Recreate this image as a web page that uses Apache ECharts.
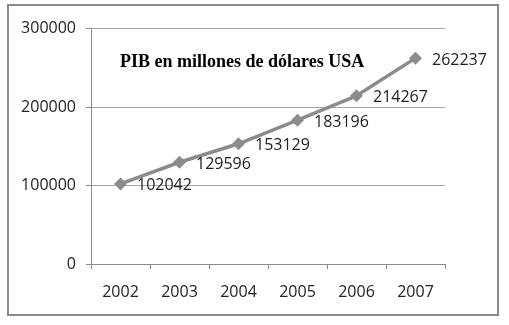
<!DOCTYPE html>
<html>
<head>
<meta charset="utf-8">
<script src="https://cdn.jsdelivr.net/npm/echarts@6/dist/echarts.min.js"></script>
<style>html,body{margin:0;padding:0;background:#fff}#c{width:509px;height:325px}</style>
</head>
<body>
<div id="c"></div>
<script>
var categories = ['2002','2003','2004','2005','2006','2007'];
var pib = [102042, 129596, 153129, 183196, 214267, 262237];
var yTicks = [0, 100000, 200000, 300000];
var titleText = 'PIB en millones de dólares USA';

var chart = echarts.init(document.getElementById('c'), null, {renderer:'canvas'});
var font = 'Open Sans';
chart.setOption({
  animation: false,
  backgroundColor: '#fff',
  graphic: [{
    type: 'rect',
    shape: {x: 8, y: 5, width: 490, height: 310},
    style: {fill: 'none', stroke: '#8a8a8a', lineWidth: 2}
  }],
  title: {
    text: titleText,
    left: 115, top: 48,
    textStyle: {fontFamily: 'Liberation Serif', fontSize: 18, fontWeight: 'bold', color: '#000'}
  },
  grid: {left: 91, right: 64, top: 28.5, bottom: 61, containLabel: false},
  xAxis: {
    type: 'category',
    data: categories,
    boundaryGap: true,
    axisLine: {lineStyle: {color: '#8a8a8a', width: 1}},
    axisTick: {show: true, length: 5, inside: false, lineStyle: {color: '#8a8a8a'}},
    axisLabel: {margin: 20, fontFamily: font, fontSize: 16, color: '#222'},
    splitLine: {show: false}
  },
  yAxis: {
    type: 'value',
    min: yTicks[0], max: yTicks[yTicks.length-1], interval: 100000,
    axisLine: {show: true, lineStyle: {color: '#8a8a8a', width: 1}},
    axisTick: {show: true, length: 5, lineStyle: {color: '#8a8a8a'}},
    axisLabel: {margin: 15, fontFamily: font, fontSize: 16, color: '#222',
      formatter: function (v) { return String(v); }},
    splitLine: {show: true, lineStyle: {color: '#a8a8a8', width: 1}}
  },
  series: [{
    type: 'line',
    data: pib,
    symbol: 'diamond',
    symbolSize: 13,
    itemStyle: {color: '#8c8c8c'},
    lineStyle: {color: '#8c8c8c', width: 3.5},
    label: {show: true, position: 'right', distance: 10, offset: [0, 2],
      fontFamily: font, fontSize: 16, color: '#222'}
  }]
});
</script>
</body>
</html>
